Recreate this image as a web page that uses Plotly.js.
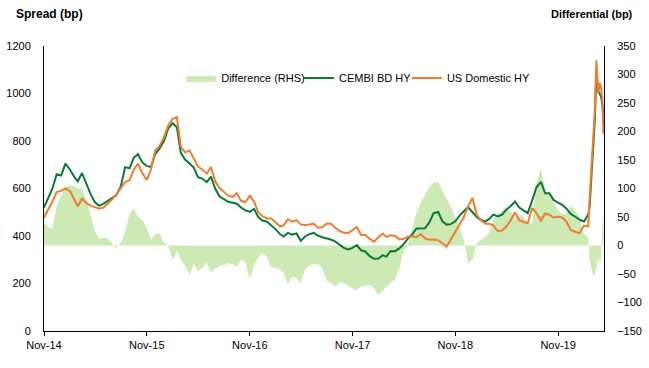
<!DOCTYPE html>
<html><head><meta charset="utf-8">
<script src="https://cdn.plot.ly/plotly-3.0.1.min.js"></script>
<style>html,body{margin:0;padding:0;background:#fff}#chart{width:649px;height:368px}</style>
</head><body><div id="chart"></div>
<script>
const dates = [
'2014-11-01','2014-11-16','2014-12-01','2014-12-16',
'2015-01-01','2015-01-16','2015-02-01','2015-02-16','2015-03-01','2015-03-16','2015-04-01','2015-04-16','2015-05-01','2015-05-16','2015-06-01','2015-06-16',
'2015-07-01','2015-07-16','2015-08-01','2015-08-16','2015-09-01','2015-09-16','2015-10-01','2015-10-16','2015-11-01','2015-11-16','2015-12-01','2015-12-16',
'2016-01-01','2016-01-16','2016-02-01','2016-02-16','2016-03-01','2016-03-16','2016-04-01','2016-04-16','2016-05-01','2016-05-16','2016-06-01','2016-06-16',
'2016-07-01','2016-07-16','2016-08-01','2016-08-16','2016-09-01','2016-09-16','2016-10-01','2016-10-16','2016-11-01','2016-11-16','2016-12-01','2016-12-16',
'2017-01-01','2017-01-16','2017-02-01','2017-02-16','2017-03-01','2017-03-16','2017-04-01','2017-04-16','2017-05-01','2017-05-16','2017-06-01','2017-06-16',
'2017-07-01','2017-07-16','2017-08-01','2017-08-16','2017-09-01','2017-09-16','2017-10-01','2017-10-16','2017-11-01','2017-11-16','2017-12-01','2017-12-16',
'2018-01-01','2018-01-16','2018-02-01','2018-02-16','2018-03-01','2018-03-16','2018-04-01','2018-04-16','2018-05-01','2018-05-16','2018-06-01','2018-06-16',
'2018-07-01','2018-07-16','2018-08-01','2018-08-16','2018-09-01','2018-09-16','2018-10-01','2018-10-16','2018-11-01','2018-11-16','2018-12-01','2018-12-16',
'2019-01-01','2019-01-16','2019-02-01','2019-02-16','2019-03-01','2019-03-16','2019-04-01','2019-04-16','2019-05-01','2019-05-16','2019-06-01','2019-06-16',
'2019-07-01','2019-07-16','2019-08-01','2019-08-16','2019-09-01','2019-09-16','2019-10-01','2019-10-16','2019-11-01','2019-11-16','2019-12-01','2019-12-16',
'2020-01-01','2020-01-16','2020-02-01','2020-02-16','2020-02-21','2020-03-01','2020-03-05','2020-03-10','2020-03-16','2020-03-23','2020-03-27','2020-04-01','2020-04-06','2020-04-10'
];
const cembiBdHy = [
520,560,600,660,655,705,680,650,630,665,
615,575,542,527,536,548,558,572,610,690,
685,730,745,710,695,690,745,768,800,852,
875,858,750,722,705,688,648,642,627,650,
600,567,555,544,540,536,520,508,502,514,
480,465,460,446,428,408,398,413,406,411,
380,398,408,413,402,395,390,385,376,363,
350,343,350,362,340,335,315,304,305,319,
313,337,336,348,365,389,407,432,432,433,
458,496,501,462,448,450,462,486,504,521,
500,480,466,461,472,490,482,490,511,525,
545,520,508,496,550,605,628,580,580,552,
540,531,515,493,481,469,461,
490,525,680,760,880,1075,1010,1000,990,955,905
];
const usDomesticHy = [
478,510,545,585,590,600,590,555,525,558,
538,528,520,515,520,536,555,575,600,627,
635,680,705,665,636,680,760,778,815,865,
893,900,775,752,760,725,692,680,663,690,
630,603,585,570,565,581,548,543,570,545,
500,483,474,474,458,440,445,470,460,467,
448,446,448,452,435,437,453,452,435,421,
414,412,425,438,404,404,388,376,395,410,
396,403,400,385,388,398,398,395,408,390,
384,385,382,367,356,385,420,448,480,525,
560,488,465,452,452,445,420,423,440,465,
500,466,460,454,518,496,465,495,490,478,
481,478,460,424,418,412,444,
440,560,730,800,920,1140,1000,1045,1030,975,830
];
const differenceRhs = [
40,33,30,70,88,103,106,105,100,100,
80,52,25,12,14,12,3,-5,5,25,
55,66,50,45,30,10,20,22,5,0,
-25,-10,-25,-35,-52,-32,-45,-40,-30,-48,
-40,-36,-34,-31,-33,-37,-25,-30,-60,-35,
-20,-14,-20,-38,-40,-42,-48,-68,-55,-58,
-66,-42,-35,-32,-33,-40,-62,-66,-72,-64,
-66,-70,-76,-78,-72,-70,-69,-75,-87,-80,
-72,-66,-60,-40,-10,0,30,58,75,90,
103,110,112,95,82,68,50,33,10,-31,
-25,5,10,15,22,45,55,62,65,60,
45,55,50,40,40,110,135,95,92,75,
62,55,55,70,62,50,20,
15,-25,-45,-55,-50,-40,-20,-30,-25,30,70
];
const xTickVals = ['2014-11-01','2015-11-01','2016-11-01','2017-11-01','2018-11-01','2019-11-01'];
const xTickText = ['Nov-14','Nov-15','Nov-16','Nov-17','Nov-18','Nov-19'];
const seriesNames = ['Difference (RHS)','CEMBI BD HY','US Domestic HY'];

const FONT = 'Liberation Sans, Arial, sans-serif';
const traces = [
  {x: dates, y: differenceRhs, name: seriesNames[0], type: 'scatter', mode: 'lines',
   fill: 'tozeroy', fillcolor: '#cde9b4', line: {width: 0, color: '#cde9b4'}, yaxis: 'y', legend: 'legend'},
  {x: dates, y: cembiBdHy, name: seriesNames[1], type: 'scatter', mode: 'lines',
   line: {width: 2, color: '#0b7a36'}, yaxis: 'y2', legend: 'legend2'},
  {x: dates, y: usDomesticHy, name: seriesNames[2], type: 'scatter', mode: 'lines',
   line: {width: 2, color: '#ee7d31'}, yaxis: 'y2', legend: 'legend3'}
];
function leg(x) {
  return {orientation: 'h', x: x, xanchor: 'left', y: 0.888, yanchor: 'middle',
    bgcolor: 'rgba(0,0,0,0)', font: {size: 11, color: '#000'}, itemwidth: 30};
}
const layout = {
  width: 649, height: 368,
  margin: {l: 44, r: 45, t: 46, b: 37},
  paper_bgcolor: '#fff', plot_bgcolor: '#fff',
  font: {family: FONT, size: 11, color: '#000'},
  showlegend: true,
  legend: leg(0.245),
  legend2: leg(0.4554),
  legend3: leg(0.648),
  xaxis: {type: 'date', range: ['2014-11-01', '2020-04-12'], tickvals: xTickVals, ticktext: xTickText,
    ticks: 'outside', ticklen: 4, tickcolor: '#000', showline: true, linecolor: '#000', linewidth: 1,
    showgrid: false, zeroline: false, tickfont: {size: 11}},
  yaxis: {side: 'right', range: [-150, 350], dtick: 50, showline: true, linecolor: '#000', linewidth: 1,
    showgrid: false, zeroline: false, ticks: '', ticklabelstandoff: 10, tickfont: {size: 11}},
  yaxis2: {overlaying: 'y', side: 'left', range: [0, 1200], dtick: 200, showline: true, linecolor: '#000', linewidth: 1,
    showgrid: false, zeroline: false, ticks: '', ticklabelstandoff: 10, tickfont: {size: 11}},
  annotations: [
    {text: '<b>Spread (bp)</b>', xref: 'paper', yref: 'paper', x: -0.0536, y: 1.112, xanchor: 'left', yanchor: 'middle',
     showarrow: false, font: {size: 12, color: '#000'}},
    {text: '<b>Differential (bp)</b>', xref: 'paper', yref: 'paper', x: 1.0554, y: 1.112, xanchor: 'right', yanchor: 'middle',
     showarrow: false, font: {size: 11, color: '#000'}}
  ]
};
Plotly.newPlot('chart', traces, layout, {staticPlot: true, displayModeBar: false});
</script>
</body></html>
